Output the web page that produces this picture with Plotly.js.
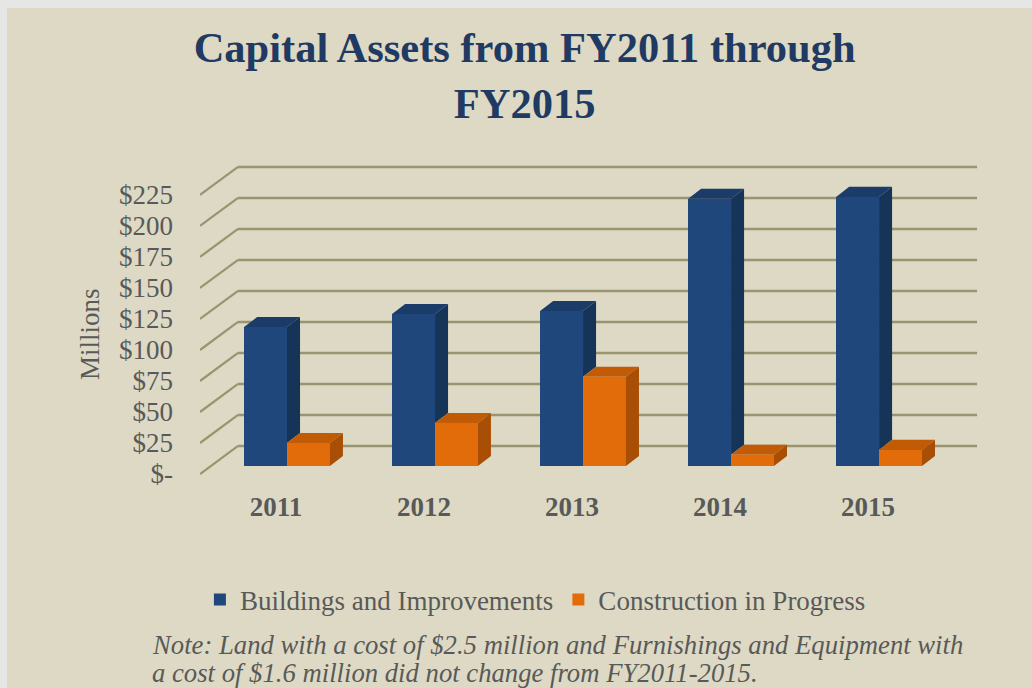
<!DOCTYPE html>
<html>
<head>
<meta charset="utf-8">
<script src="https://cdn.plot.ly/plotly-3.0.1.min.js"></script>
<style>
  html, body { margin: 0; padding: 0; background: #E6E6E6; width: 1032px; height: 688px; overflow: hidden; }
  #chart { position: absolute; left: 7px; top: 8px; width: 1025px; height: 680px; }
</style>
</head>
<body>
<div id="chart"></div>
<script>
// ---- data ----
const categories = ['2011', '2012', '2013', '2014', '2015'];
const buildings = [112, 122.5, 125, 215.5, 217];
const construction = [18.5, 34.7, 72, 9, 13];
const yTickValues = [0, 25, 50, 75, 100, 125, 150, 175, 200, 225];
const yTickLabels = ['$-', '$25', '$50', '$75', '$100', '$125', '$150', '$175', '$200', '$225'];
const seriesNames = ['Buildings and Improvements', 'Construction in Progress'];
const noteLines = [
  'Note: Land with a cost of $2.5 million and Furnishings and Equipment with',
  'a cost of $1.6 million did not change from FY2011-2015.'
];

// ---- styling / pseudo-3D geometry (axis units) ----
const blue = { front: '#1F477C', side: '#163358', top: '#1B3C69' };
const orange = { front: '#E36C0A', side: '#A94F05', top: '#C25B06' };
const barWidth = 0.29;
const planeDx = 0.074, planeDy = 6.45;   // front plane -> bar plane
const depthDx = 0.088, depthDy = 8.1;    // bar depth
const backDx = 0.257, backDy = 22.6;     // front plane -> back wall
const xMin = -0.5878, xMax = 4.682, xBackRight = 4.662;
const font = 'Liberation Serif, Times New Roman, serif';
const textGray = '#595959';
const gridColor = '#9A9470';

const idx = categories.map((c, i) => i);

// grid lines on the back wall + left diagonals, derived from tick values
const shapes = [];
yTickValues.forEach(v => {
  shapes.push({ type: 'line', xref: 'x', yref: 'y', layer: 'below',
    x0: xMin, y0: v, x1: xMin + backDx, y1: v + backDy,
    line: { color: gridColor, width: 2.2 } });
  shapes.push({ type: 'line', xref: 'x', yref: 'y', layer: 'below',
    x0: xMin + backDx, y0: v + backDy, x1: xBackRight, y1: v + backDy,
    line: { color: gridColor, width: 2.6 } });
});

const traces = [];
// front faces as real bars
traces.push({ type: 'bar', name: seriesNames[0], x: idx, y: buildings, base: planeDy,
  offset: -barWidth, width: barWidth, marker: { color: blue.front, line: { width: 0 } },
  hovertemplate: '%{y}<extra>' + seriesNames[0] + '</extra>' });
traces.push({ type: 'bar', name: seriesNames[1], x: idx, y: construction, base: planeDy,
  offset: 0, width: barWidth, marker: { color: orange.front, line: { width: 0 } },
  hovertemplate: '%{y}<extra>' + seriesNames[1] + '</extra>' });

function poly(xs, ys, color) {
  traces.push({ type: 'scatter', mode: 'lines', x: xs.concat([xs[0]]), y: ys.concat([ys[0]]),
    fill: 'toself', fillcolor: color, line: { width: 0, color: color },
    hoverinfo: 'skip', showlegend: false });
}

idx.forEach(i => {
  const b = buildings[i], c = construction[i];
  const bx0 = i - barWidth, bx1 = i;
  const bTop = planeDy + b, cTop = planeDy + c;
  // blue top
  poly([bx0, bx0 + depthDx, bx1 + depthDx, bx1],
       [bTop, bTop + depthDy, bTop + depthDy, bTop], blue.top);
  // blue side (visible part above orange bar)
  poly([bx1, bx1, bx1 + depthDx, bx1 + depthDx],
       [cTop, bTop, bTop + depthDy, cTop + depthDy], blue.side);
  // orange bar top and side
  const ox0 = i, ox1 = i + barWidth;
  poly([ox0, ox0 + depthDx, ox1 + depthDx, ox1],
       [cTop, cTop + depthDy, cTop + depthDy, cTop], orange.top);
  poly([ox1, ox1, ox1 + depthDx, ox1 + depthDx],
       [planeDy, cTop, cTop + depthDy, planeDy + depthDy], orange.side);
});

const layout = {
  width: 1025, height: 680,
  paper_bgcolor: '#DDD9C4', plot_bgcolor: 'rgba(0,0,0,0)',
  margin: { l: 193, r: 52, t: 152, b: 208 },
  title: { text: 'Capital Assets from FY2011 through<br>FY2015',
    font: { family: font, size: 42.5, color: '#1F3A63', weight: 'bold' },
    x: 0.505, xref: 'container', xanchor: 'center', y: 0.92, yref: 'container', yanchor: 'top' },
  showlegend: true,
  legend: { orientation: 'h', x: 0.43, xanchor: 'center', y: -0.375, yanchor: 'middle',
    font: { family: font, size: 27, color: textGray }, bgcolor: 'rgba(0,0,0,0)',
    itemwidth: 30, traceorder: 'normal' },
  bargap: 0, barmode: 'overlay',
  xaxis: { type: 'linear', range: [xMin, xMax], showgrid: false, zeroline: false, showline: false,
    tickmode: 'array', tickvals: idx.map(i => i - planeDx), ticktext: categories,
    ticks: '', ticklabelstandoff: 8,
    tickfont: { family: font, size: 27, color: textGray, weight: 'bold' }, fixedrange: true },
  yaxis: { range: [-4.84, 253.2], showgrid: false, zeroline: false, showline: false,
    tickmode: 'array', tickvals: yTickValues, ticktext: yTickLabels, ticks: '',
    ticklabelstandoff: 26,
    tickfont: { family: font, size: 27, color: textGray },
    fixedrange: true },
  shapes: shapes,
  annotations: [
    { xref: 'paper', yref: 'paper', x: -0.141, y: 0.456, xanchor: 'center', yanchor: 'middle',
      textangle: -90, showarrow: false, text: 'Millions',
      font: { family: font, size: 27, color: textGray } },
    { xref: 'paper', yref: 'paper', x: -0.064, y: -0.5156, xanchor: 'left', yanchor: 'middle',
      align: 'left', showarrow: false, text: '<i>' + noteLines[0] + '</i>',
      font: { family: font, size: 26.7, color: textGray } },
    { xref: 'paper', yref: 'paper', x: -0.064, y: -0.603, xanchor: 'left', yanchor: 'middle',
      align: 'left', showarrow: false, text: '<i>' + noteLines[1] + '</i>',
      font: { family: font, size: 26.7, color: textGray } }
  ]
};

Plotly.newPlot('chart', traces, layout, { displayModeBar: false });
</script>
</body>
</html>
